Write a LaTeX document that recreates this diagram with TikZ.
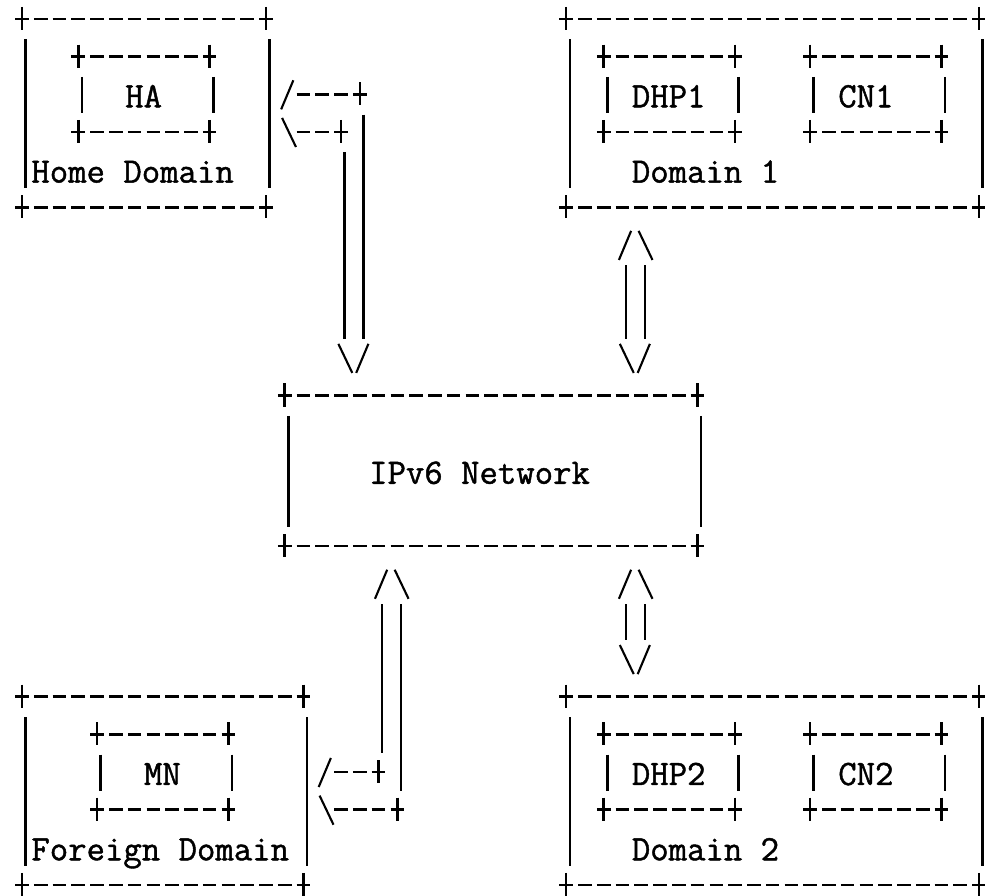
\documentclass[tikz,border=0pt]{standalone}
\usepackage{fontspec}
\newfontfamily\ascfont[FakeBold=1.2]{Latin Modern Mono}
\tikzset{
  ln/.style={line width=2.5pt, black},
  dsh/.style={line width=2.5pt, black, dash pattern=on 13.6pt off 5.165pt},
  sl/.style={line width=2.1pt, black},
  lbl/.style={inner sep=0pt, outer sep=0pt, anchor=base west, text=black,
    font=\ascfont\fontsize{35.74pt}{37.65pt}\selectfont},
  boxarea/.style={inner sep=0pt, outer sep=0pt, draw=none},
}
% grid: one column = 18.765pt, one row = 37.65pt (downwards)
\newcommand\ahrun[3]{\draw[dsh] ({#2-0.3624},{#1}) -- ({#3+0.3624},{#1});}
\newcommand\aplus[2]{\draw[ln] ({#1},{#2-0.319}) -- ({#1},{#2+0.292});}
\newcommand\avrun[3]{\draw[ln] ({#1+0.192},{#2-0.46}) -- ({#1+0.192},{#3+0.5});}
\newcommand\aslash[2]{\draw[sl] ({#1-0.19},{#2+0.40}) -- ({#1+0.46},{#2-0.372});}
\newcommand\abslash[2]{\draw[sl] ({#1-0.14},{#2-0.372}) -- ({#1+0.6},{#2+0.40});}
\newcommand\abox[5]{%
  \node[boxarea, minimum width={(#4-#2)*18.765pt}, minimum height={(#5-#3)*37.65pt}]
    (#1) at ({(#2+#4)/2},{(#3+#5)/2}) {};
  \ahrun{#3}{#2}{#4}\ahrun{#5}{#2}{#4}%
  \aplus{#2}{#3}\aplus{#4}{#3}\aplus{#2}{#5}\aplus{#4}{#5}%
  \avrun{#2}{#3+1}{#5-1}\avrun{#4}{#3+1}{#5-1}%
}
\begin{document}
\begin{tikzpicture}[x=18.765pt, y=-37.65pt]
\fill[white] (-1.1724,-0.5046) rectangle (51.319,23.267);
\useasboundingbox (-1.1724,-0.5046) rectangle (51.319,23.267);

% boxes
\abox{home}{0}{0}{13}{5}
\abox{ha}{3}{1}{10}{3}
\abox{dom1}{29}{0}{51}{5}
\abox{dhp1}{31}{1}{38}{3}
\abox{cn1}{42}{1}{49}{3}
\abox{net}{14}{10}{36}{14}
\abox{foreign}{0}{18}{15}{23}
\abox{mn}{4}{19}{11}{21}
\abox{dom2}{29}{18}{51}{23}
\abox{dhp2}{31}{19}{38}{21}
\abox{cn2}{42}{19}{49}{21}

% labels
\node[lbl] (tHA) at (5.5,2.345) {HA};
\node[lbl] (tHome) at (0.5,4.345) {Home Domain};
\node[lbl] (tDHP1) at (32.5,2.345) {DHP1};
\node[lbl] (tCN1) at (43.5,2.345) {CN1};
\node[lbl] (tDom1) at (32.5,4.345) {Domain 1};
\node[lbl] (tNet) at (18.5,12.345) {IPv6 Network};
\node[lbl] (tMN) at (6.5,20.345) {MN};
\node[lbl] (tForeign) at (0.5,22.345) {Foreign Domain};
\node[lbl] (tDHP2) at (32.5,20.345) {DHP2};
\node[lbl] (tCN2) at (43.5,20.345) {CN2};
\node[lbl] (tDom2) at (32.5,22.345) {Domain 2};

% connector: Home Domain <-> IPv6 Network
\aslash{14}{2}\ahrun{2}{15}{18}\aplus{18}{2}
\abslash{14}{3}\ahrun{3}{15}{17}\aplus{17}{3}
\avrun{18}{3}{8}\avrun{17}{4}{8}
\abslash{17}{9}\aslash{18}{9}

% connector: Domain 1 <-> IPv6 Network
\aslash{32}{6}\abslash{33}{6}
\avrun{32}{7}{8}\avrun{33}{7}{8}
\abslash{32}{9}\aslash{33}{9}

% connector: IPv6 Network <-> Foreign Domain
\aslash{19}{15}\abslash{20}{15}
\avrun{19}{16}{19}\avrun{20}{16}{20}
\aslash{16}{20}\ahrun{20}{17}{19}\aplus{19}{20}
\abslash{16}{21}\ahrun{21}{17}{20}\aplus{20}{21}

% connector: IPv6 Network <-> Domain 2
\aslash{32}{15}\abslash{33}{15}
\avrun{32}{16}{16}\avrun{33}{16}{16}
\abslash{32}{17}\aslash{33}{17}
\end{tikzpicture}
\end{document}
